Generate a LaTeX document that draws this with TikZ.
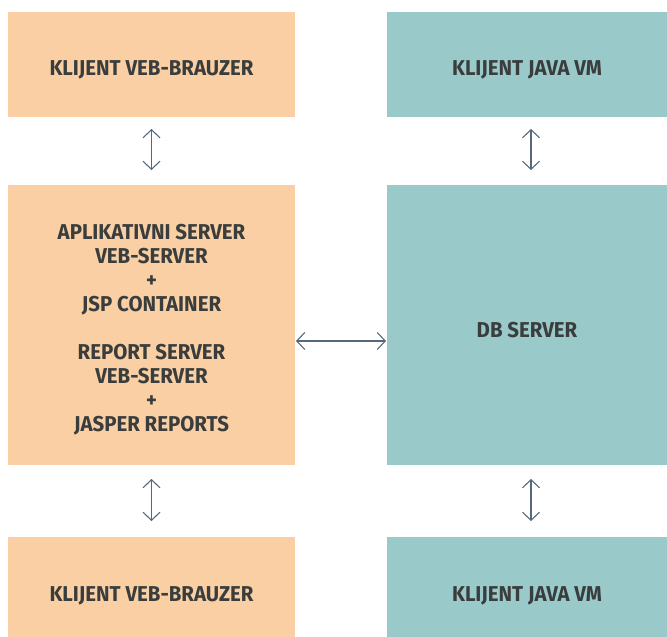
\documentclass[tikz,border=0pt]{standalone}
\usepackage{fontspec}
\setmainfont{Fira Sans}[FakeStretch=0.95]
\usetikzlibrary{arrows.meta}
\definecolor{peach}{HTML}{F9CFA3}
\definecolor{teal}{HTML}{99C9C9}
\definecolor{arrowc}{HTML}{56697A}
\definecolor{txt}{HTML}{3A3D3D}
\begin{document}
\begin{tikzpicture}[x=1pt,y=-1pt,
  boxstyle/.style={inner sep=0pt,outer sep=0pt},
  lbl/.style={font=\fontsize{21.5}{24}\selectfont\bfseries,text=txt,align=center,yshift=-5pt,inner sep=0pt},
  pbox/.style={boxstyle,fill=peach},
  tbox/.style={boxstyle,fill=teal},
  tipc/.tip={Straight Barb[length=8pt,width=17pt,line width=1.1pt]},
  conn/.style={draw=arrowc,line width=1.6pt,tipc-tipc}]
\useasboundingbox (0,0) rectangle (667,637);
\node[pbox,minimum width=287,minimum height=105,label={[lbl]center:KLIJENT VEB-BRAUZER}] (tl) at (151.5,64.5) {};
\node[tbox,minimum width=280,minimum height=105,label={[lbl]center:KLIJENT JAVA VM}] (tr) at (527,64.5) {};
\node[pbox,minimum width=287,minimum height=280,label={[lbl]center:{APLIKATIVNI SERVER\\VEB-SERVER\\+\\JSP CONTAINER\\[24pt]REPORT SERVER\\VEB-SERVER\\+\\JASPER REPORTS}}] (ml) at (151.5,325) {};
\node[tbox,minimum width=280,minimum height=280,label={[lbl]center:DB SERVER}] (mr) at (527,325) {};
\node[pbox,minimum width=287,minimum height=100,label={[lbl,yshift=-4pt]center:KLIJENT VEB-BRAUZER}] (bl) at (151.5,587) {};
\node[tbox,minimum width=280,minimum height=100,label={[lbl,yshift=-4pt]center:KLIJENT JAVA VM}] (br) at (527,587) {};
\draw[conn] ([yshift=-12]tl.south) -- ([yshift=15]ml.north);
\draw[conn] ([xshift=4,yshift=-12]tr.south) -- ([xshift=4,yshift=15]mr.north);
\draw[conn] ([yshift=-14]ml.south) -- ([yshift=16]bl.north);
\draw[conn] ([xshift=4,yshift=-14]mr.south) -- ([xshift=4,yshift=16]br.north);
\draw[conn] ([xshift=1,yshift=-16]ml.east) -- ([xshift=-1,yshift=-16]mr.west);
\end{tikzpicture}
\end{document}
